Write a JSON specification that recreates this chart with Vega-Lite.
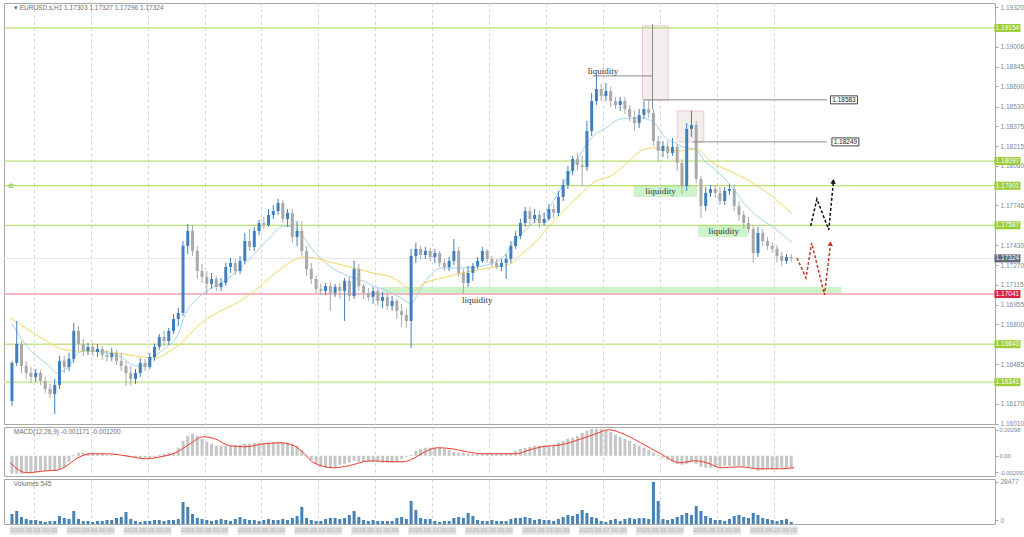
{
"$schema":"https://vega.github.io/schema/vega-lite/v6.json",
"padding":{"left":2,"top":2,"right":0,"bottom":0},
"background":"white",
"spacing":3,
"bounds":"flush",
"config":{"view":{"stroke":"#a8a8a8","strokeWidth":1},"axis":{"labelFont":"Liberation Sans","labelFontSize":6.5,"labelColor":"#7d8592","tickColor":"#a0a6ae","tickSize":3,"domainColor":"#a0a6ae","labelPadding":2}},
"datasets":{
"bars":[
{"i":0,"o":1.16192,"h":1.1651,"l":1.16152,"c":1.16494,"v":6780,"m":-0.00186},
{"i":1,"o":1.16494,"h":1.16827,"l":1.1647,"c":1.16645,"v":8810,"m":-0.00186},
{"i":2,"o":1.16645,"h":1.16668,"l":1.16414,"c":1.1647,"v":4750,"m":-0.00186},
{"i":3,"o":1.1647,"h":1.1651,"l":1.16367,"c":1.16414,"v":3390,"m":-0.00176},
{"i":4,"o":1.16414,"h":1.16462,"l":1.16335,"c":1.16383,"v":2710,"m":-0.00166},
{"i":5,"o":1.16383,"h":1.16446,"l":1.16343,"c":1.16414,"v":2710,"m":-0.00166},
{"i":6,"o":1.16414,"h":1.16438,"l":1.16319,"c":1.16351,"v":2030,"m":-0.00155},
{"i":7,"o":1.16351,"h":1.16383,"l":1.16256,"c":1.16287,"v":1360,"m":-0.00155},
{"i":8,"o":1.16287,"h":1.16327,"l":1.16216,"c":1.16248,"v":2030,"m":-0.00155},
{"i":9,"o":1.16248,"h":1.16367,"l":1.16089,"c":1.16319,"v":2030,"m":-0.00155},
{"i":10,"o":1.16319,"h":1.16549,"l":1.16287,"c":1.1651,"v":5420,"m":-0.00135},
{"i":11,"o":1.1651,"h":1.16549,"l":1.16414,"c":1.16462,"v":4070,"m":-0.00114},
{"i":12,"o":1.16462,"h":1.16573,"l":1.1643,"c":1.16526,"v":3390,"m":-0.00062},
{"i":13,"o":1.16526,"h":1.16811,"l":1.16494,"c":1.16748,"v":8810,"m":0.0001},
{"i":14,"o":1.16748,"h":1.16787,"l":1.16589,"c":1.16645,"v":3390,"m":0.00031},
{"i":15,"o":1.16645,"h":1.16684,"l":1.16549,"c":1.16589,"v":2030,"m":0.00031},
{"i":16,"o":1.16589,"h":1.16653,"l":1.16557,"c":1.16621,"v":2030,"m":0.00031},
{"i":17,"o":1.16621,"h":1.16653,"l":1.16549,"c":1.16581,"v":1360,"m":0.00031},
{"i":18,"o":1.16581,"h":1.16645,"l":1.16541,"c":1.16605,"v":2030,"m":0.00021},
{"i":19,"o":1.16605,"h":1.16629,"l":1.16518,"c":1.16557,"v":2030,"m":0.00021},
{"i":20,"o":1.16557,"h":1.16597,"l":1.16502,"c":1.16541,"v":2710,"m":0.0001},
{"i":21,"o":1.16541,"h":1.16613,"l":1.1651,"c":1.16573,"v":2710,"m":0.0001},
{"i":22,"o":1.16573,"h":1.16597,"l":1.16478,"c":1.1651,"v":4070,"m":0},
{"i":23,"o":1.1651,"h":1.16573,"l":1.1643,"c":1.1647,"v":4750,"m":0},
{"i":24,"o":1.1647,"h":1.1651,"l":1.16311,"c":1.16414,"v":8140,"m":-0.0001},
{"i":25,"o":1.16414,"h":1.1647,"l":1.16319,"c":1.16367,"v":3390,"m":-0.0001},
{"i":26,"o":1.16367,"h":1.16446,"l":1.16327,"c":1.16414,"v":2030,"m":-0.00021},
{"i":27,"o":1.16414,"h":1.16533,"l":1.16383,"c":1.16494,"v":1360,"m":-0.00021},
{"i":28,"o":1.16494,"h":1.16526,"l":1.1643,"c":1.16462,"v":2030,"m":-0.00021},
{"i":29,"o":1.16462,"h":1.16573,"l":1.16446,"c":1.16541,"v":2030,"m":-0.00021},
{"i":30,"o":1.16541,"h":1.16645,"l":1.1651,"c":1.16621,"v":2710,"m":-0.0001},
{"i":31,"o":1.16621,"h":1.16724,"l":1.16597,"c":1.167,"v":2710,"m":0.0001},
{"i":32,"o":1.167,"h":1.16748,"l":1.16629,"c":1.16668,"v":2030,"m":0.00021},
{"i":33,"o":1.16668,"h":1.16772,"l":1.16637,"c":1.16748,"v":2710,"m":0.00031},
{"i":34,"o":1.16748,"h":1.16883,"l":1.16724,"c":1.16843,"v":2710,"m":0.00031},
{"i":35,"o":1.16843,"h":1.1693,"l":1.16787,"c":1.16891,"v":3390,"m":0.00083},
{"i":36,"o":1.16891,"h":1.17462,"l":1.16867,"c":1.17423,"v":14920,"m":0.00155},
{"i":37,"o":1.17423,"h":1.17597,"l":1.17359,"c":1.17542,"v":11530,"m":0.00207},
{"i":38,"o":1.17542,"h":1.1759,"l":1.17343,"c":1.17383,"v":6780,"m":0.00228},
{"i":39,"o":1.17383,"h":1.17423,"l":1.17161,"c":1.17224,"v":4070,"m":0.00207},
{"i":40,"o":1.17224,"h":1.1728,"l":1.17129,"c":1.17177,"v":3390,"m":0.00176},
{"i":41,"o":1.17177,"h":1.17224,"l":1.17042,"c":1.17121,"v":2710,"m":0.00145},
{"i":42,"o":1.17121,"h":1.17208,"l":1.17081,"c":1.17161,"v":2030,"m":0.00124},
{"i":43,"o":1.17161,"h":1.17185,"l":1.17065,"c":1.17097,"v":2710,"m":0.00104},
{"i":44,"o":1.17097,"h":1.17169,"l":1.17065,"c":1.17129,"v":3390,"m":0.00104},
{"i":45,"o":1.17129,"h":1.17288,"l":1.17105,"c":1.17256,"v":2710,"m":0.00104},
{"i":46,"o":1.17256,"h":1.17327,"l":1.17208,"c":1.17288,"v":2030,"m":0.00104},
{"i":47,"o":1.17288,"h":1.17319,"l":1.17192,"c":1.17224,"v":3390,"m":0.00114},
{"i":48,"o":1.17224,"h":1.17343,"l":1.172,"c":1.17304,"v":4750,"m":0.00114},
{"i":49,"o":1.17304,"h":1.17526,"l":1.1728,"c":1.17462,"v":3390,"m":0.00124},
{"i":50,"o":1.17462,"h":1.17558,"l":1.17383,"c":1.17415,"v":2710,"m":0.00124},
{"i":51,"o":1.17415,"h":1.17574,"l":1.17383,"c":1.17542,"v":2710,"m":0.00135},
{"i":52,"o":1.17542,"h":1.17629,"l":1.1751,"c":1.17605,"v":2030,"m":0.00135},
{"i":53,"o":1.17605,"h":1.17653,"l":1.17558,"c":1.17589,"v":2710,"m":0.00135},
{"i":54,"o":1.17589,"h":1.17716,"l":1.17574,"c":1.17669,"v":3390,"m":0.00135},
{"i":55,"o":1.17669,"h":1.17748,"l":1.17637,"c":1.177,"v":2710,"m":0.00145},
{"i":56,"o":1.177,"h":1.17796,"l":1.17669,"c":1.17764,"v":2710,"m":0.00145},
{"i":57,"o":1.17764,"h":1.17788,"l":1.17605,"c":1.17637,"v":3390,"m":0.00135},
{"i":58,"o":1.17637,"h":1.17716,"l":1.17574,"c":1.17685,"v":2710,"m":0.00135},
{"i":59,"o":1.17685,"h":1.17716,"l":1.17447,"c":1.17494,"v":4070,"m":0.00124},
{"i":60,"o":1.17494,"h":1.17621,"l":1.17423,"c":1.17542,"v":5420,"m":0.00104},
{"i":61,"o":1.17542,"h":1.17621,"l":1.17343,"c":1.17383,"v":11530,"m":0.00062},
{"i":62,"o":1.17383,"h":1.17423,"l":1.17185,"c":1.1724,"v":4070,"m":0.0001},
{"i":63,"o":1.1724,"h":1.17288,"l":1.17121,"c":1.17161,"v":2710,"m":-0.00041},
{"i":64,"o":1.17161,"h":1.17185,"l":1.1705,"c":1.17081,"v":2030,"m":-0.00083},
{"i":65,"o":1.17081,"h":1.17121,"l":1.17034,"c":1.17065,"v":2030,"m":-0.00114},
{"i":66,"o":1.17065,"h":1.17129,"l":1.17034,"c":1.17105,"v":3390,"m":-0.00124},
{"i":67,"o":1.17105,"h":1.17137,"l":1.16907,"c":1.1705,"v":4070,"m":-0.00124},
{"i":68,"o":1.1705,"h":1.17121,"l":1.17018,"c":1.17097,"v":4070,"m":-0.00114},
{"i":69,"o":1.17097,"h":1.17129,"l":1.17002,"c":1.17065,"v":3390,"m":-0.00093},
{"i":70,"o":1.17065,"h":1.17169,"l":1.16827,"c":1.17145,"v":4070,"m":-0.00083},
{"i":71,"o":1.17145,"h":1.17177,"l":1.16986,"c":1.17026,"v":6100,"m":-0.00072},
{"i":72,"o":1.17026,"h":1.17304,"l":1.17002,"c":1.1724,"v":8810,"m":-0.00052},
{"i":73,"o":1.1724,"h":1.1728,"l":1.17065,"c":1.17105,"v":4750,"m":-0.00062},
{"i":74,"o":1.17105,"h":1.17121,"l":1.17002,"c":1.1705,"v":2710,"m":-0.00062},
{"i":75,"o":1.1705,"h":1.17089,"l":1.16986,"c":1.17018,"v":2030,"m":-0.00062},
{"i":76,"o":1.17018,"h":1.17097,"l":1.16962,"c":1.17065,"v":2710,"m":-0.00062},
{"i":77,"o":1.17065,"h":1.17089,"l":1.16946,"c":1.16986,"v":2030,"m":-0.00062},
{"i":78,"o":1.16986,"h":1.17057,"l":1.1693,"c":1.17018,"v":2030,"m":-0.00072},
{"i":79,"o":1.17018,"h":1.1705,"l":1.16915,"c":1.16946,"v":2030,"m":-0.00072},
{"i":80,"o":1.16946,"h":1.17026,"l":1.16907,"c":1.16986,"v":2030,"m":-0.00072},
{"i":81,"o":1.16986,"h":1.17002,"l":1.16843,"c":1.16907,"v":4070,"m":-0.00062},
{"i":82,"o":1.16907,"h":1.16962,"l":1.1678,"c":1.16875,"v":4750,"m":-0.00031},
{"i":83,"o":1.16875,"h":1.16923,"l":1.16772,"c":1.16827,"v":3390,"m":-0.0001},
{"i":84,"o":1.16827,"h":1.17399,"l":1.16613,"c":1.17343,"v":15590,"m":0.0001},
{"i":85,"o":1.17343,"h":1.17447,"l":1.17288,"c":1.17399,"v":9490,"m":0.00052},
{"i":86,"o":1.17399,"h":1.17423,"l":1.17319,"c":1.17351,"v":4070,"m":0.00072},
{"i":87,"o":1.17351,"h":1.17415,"l":1.17319,"c":1.17383,"v":3390,"m":0.00083},
{"i":88,"o":1.17383,"h":1.17407,"l":1.17304,"c":1.17335,"v":3390,"m":0.00083},
{"i":89,"o":1.17335,"h":1.17399,"l":1.17288,"c":1.17367,"v":2030,"m":0.00083},
{"i":90,"o":1.17367,"h":1.17383,"l":1.17256,"c":1.17288,"v":1360,"m":0.00083},
{"i":91,"o":1.17288,"h":1.17319,"l":1.17224,"c":1.17256,"v":2030,"m":0.00072},
{"i":92,"o":1.17256,"h":1.17335,"l":1.17224,"c":1.17304,"v":2030,"m":0.00062},
{"i":93,"o":1.17304,"h":1.17478,"l":1.17272,"c":1.17383,"v":4070,"m":0.00041},
{"i":94,"o":1.17383,"h":1.17415,"l":1.17177,"c":1.17208,"v":4750,"m":0.00031},
{"i":95,"o":1.17208,"h":1.1724,"l":1.17042,"c":1.17129,"v":4070,"m":0.00031},
{"i":96,"o":1.17129,"h":1.17264,"l":1.17097,"c":1.17208,"v":7460,"m":0.00021},
{"i":97,"o":1.17208,"h":1.17288,"l":1.17145,"c":1.17264,"v":5420,"m":0.00021},
{"i":98,"o":1.17264,"h":1.17335,"l":1.1724,"c":1.17304,"v":2710,"m":0.00021},
{"i":99,"o":1.17304,"h":1.17415,"l":1.17288,"c":1.17383,"v":2030,"m":0.00021},
{"i":100,"o":1.17383,"h":1.17399,"l":1.17288,"c":1.17319,"v":2030,"m":0.00021},
{"i":101,"o":1.17319,"h":1.17343,"l":1.17256,"c":1.17288,"v":2710,"m":0.00021},
{"i":102,"o":1.17288,"h":1.17319,"l":1.1724,"c":1.17256,"v":2030,"m":0.00021},
{"i":103,"o":1.17256,"h":1.17319,"l":1.17224,"c":1.17288,"v":2030,"m":0.00021},
{"i":104,"o":1.17288,"h":1.17359,"l":1.17161,"c":1.17319,"v":2030,"m":0.00021},
{"i":105,"o":1.17319,"h":1.17462,"l":1.17288,"c":1.17423,"v":3390,"m":0.00031},
{"i":106,"o":1.17423,"h":1.17542,"l":1.17399,"c":1.17502,"v":4070,"m":0.00052},
{"i":107,"o":1.17502,"h":1.17637,"l":1.17478,"c":1.17605,"v":4070,"m":0.00072},
{"i":108,"o":1.17605,"h":1.17732,"l":1.17574,"c":1.177,"v":4750,"m":0.00083},
{"i":109,"o":1.177,"h":1.17732,"l":1.17582,"c":1.17637,"v":4070,"m":0.00093},
{"i":110,"o":1.17637,"h":1.17716,"l":1.17605,"c":1.17669,"v":2710,"m":0.00104},
{"i":111,"o":1.17669,"h":1.177,"l":1.17566,"c":1.17605,"v":3390,"m":0.00104},
{"i":112,"o":1.17605,"h":1.17685,"l":1.17582,"c":1.17637,"v":2710,"m":0.00104},
{"i":113,"o":1.17637,"h":1.17756,"l":1.17621,"c":1.17716,"v":2710,"m":0.00104},
{"i":114,"o":1.17716,"h":1.17756,"l":1.17645,"c":1.17685,"v":2030,"m":0.00114},
{"i":115,"o":1.17685,"h":1.1786,"l":1.17661,"c":1.17812,"v":3390,"m":0.00135},
{"i":116,"o":1.17812,"h":1.17955,"l":1.1778,"c":1.17907,"v":4750,"m":0.00155},
{"i":117,"o":1.17907,"h":1.18058,"l":1.17875,"c":1.18018,"v":6100,"m":0.00176},
{"i":118,"o":1.18018,"h":1.18137,"l":1.17986,"c":1.18113,"v":5420,"m":0.00186},
{"i":119,"o":1.18113,"h":1.18161,"l":1.18018,"c":1.18066,"v":6780,"m":0.00207},
{"i":120,"o":1.18066,"h":1.18137,"l":1.17899,"c":1.1805,"v":9490,"m":0.00238},
{"i":121,"o":1.1805,"h":1.18415,"l":1.18018,"c":1.18336,"v":7460,"m":0.00259},
{"i":122,"o":1.18336,"h":1.18638,"l":1.18296,"c":1.18574,"v":4750,"m":0.00279},
{"i":123,"o":1.18574,"h":1.18773,"l":1.18542,"c":1.18669,"v":4070,"m":0.00279},
{"i":124,"o":1.18669,"h":1.18709,"l":1.18574,"c":1.18614,"v":2030,"m":0.00279},
{"i":125,"o":1.18614,"h":1.18717,"l":1.18574,"c":1.18653,"v":1360,"m":0.00269},
{"i":126,"o":1.18653,"h":1.18685,"l":1.18526,"c":1.18574,"v":2710,"m":0.00248},
{"i":127,"o":1.18574,"h":1.18606,"l":1.1851,"c":1.18542,"v":3390,"m":0.00217},
{"i":128,"o":1.18542,"h":1.18606,"l":1.18495,"c":1.18574,"v":2030,"m":0.00197},
{"i":129,"o":1.18574,"h":1.18606,"l":1.18471,"c":1.1851,"v":3390,"m":0.00176},
{"i":130,"o":1.1851,"h":1.18542,"l":1.18415,"c":1.18447,"v":4070,"m":0.00155},
{"i":131,"o":1.18447,"h":1.18495,"l":1.18336,"c":1.18399,"v":3390,"m":0.00124},
{"i":132,"o":1.18399,"h":1.1851,"l":1.1836,"c":1.18463,"v":4070,"m":0.00104},
{"i":133,"o":1.18463,"h":1.18574,"l":1.18431,"c":1.1851,"v":4070,"m":0.00083},
{"i":134,"o":1.1851,"h":1.18582,"l":1.18439,"c":1.18479,"v":3390,"m":0.00062},
{"i":135,"o":1.18479,"h":1.1851,"l":1.18217,"c":1.18256,"v":28477,"m":0.00031},
{"i":136,"o":1.18256,"h":1.18296,"l":1.18098,"c":1.18177,"v":15590,"m":0.0001},
{"i":137,"o":1.18177,"h":1.18256,"l":1.18129,"c":1.18217,"v":3390,"m":-0.00021},
{"i":138,"o":1.18217,"h":1.18256,"l":1.18113,"c":1.18161,"v":2710,"m":-0.00041},
{"i":139,"o":1.18161,"h":1.1828,"l":1.18137,"c":1.18209,"v":3390,"m":-0.00062},
{"i":140,"o":1.18209,"h":1.18233,"l":1.18018,"c":1.18082,"v":4750,"m":-0.00083},
{"i":141,"o":1.18082,"h":1.18113,"l":1.17836,"c":1.17899,"v":6100,"m":-0.00093},
{"i":142,"o":1.17899,"h":1.18399,"l":1.1786,"c":1.18352,"v":7460,"m":-0.00083},
{"i":143,"o":1.18352,"h":1.18495,"l":1.18288,"c":1.18383,"v":6100,"m":-0.00062},
{"i":144,"o":1.18383,"h":1.18415,"l":1.17923,"c":1.17955,"v":12200,"m":-0.00083},
{"i":145,"o":1.17955,"h":1.17978,"l":1.17645,"c":1.1774,"v":8810,"m":-0.00114},
{"i":146,"o":1.1774,"h":1.17891,"l":1.177,"c":1.17844,"v":5420,"m":-0.00124},
{"i":147,"o":1.17844,"h":1.17907,"l":1.17812,"c":1.17875,"v":4070,"m":-0.00124},
{"i":148,"o":1.17875,"h":1.17899,"l":1.17804,"c":1.17844,"v":2710,"m":-0.00114},
{"i":149,"o":1.17844,"h":1.17891,"l":1.17748,"c":1.1778,"v":2710,"m":-0.00114},
{"i":150,"o":1.1778,"h":1.17891,"l":1.17748,"c":1.1786,"v":2030,"m":-0.00104},
{"i":151,"o":1.1786,"h":1.17915,"l":1.17828,"c":1.17875,"v":3390,"m":-0.00104},
{"i":152,"o":1.17875,"h":1.17907,"l":1.177,"c":1.1774,"v":5420,"m":-0.00104},
{"i":153,"o":1.1774,"h":1.1778,"l":1.17621,"c":1.17669,"v":6100,"m":-0.00104},
{"i":154,"o":1.17669,"h":1.177,"l":1.17558,"c":1.17605,"v":4750,"m":-0.00114},
{"i":155,"o":1.17605,"h":1.17653,"l":1.17526,"c":1.17558,"v":4070,"m":-0.00114},
{"i":156,"o":1.17558,"h":1.17589,"l":1.17288,"c":1.17367,"v":7460,"m":-0.00135},
{"i":157,"o":1.17367,"h":1.17574,"l":1.17335,"c":1.17526,"v":6100,"m":-0.00155},
{"i":158,"o":1.17526,"h":1.17558,"l":1.17423,"c":1.17462,"v":4070,"m":-0.00145},
{"i":159,"o":1.17462,"h":1.17494,"l":1.17391,"c":1.17423,"v":3390,"m":-0.00135},
{"i":160,"o":1.17423,"h":1.17454,"l":1.17367,"c":1.17399,"v":2710,"m":-0.00135},
{"i":161,"o":1.17399,"h":1.17431,"l":1.17288,"c":1.17343,"v":2030,"m":-0.00135},
{"i":162,"o":1.17343,"h":1.17375,"l":1.17264,"c":1.17304,"v":2710,"m":-0.00124},
{"i":163,"o":1.17304,"h":1.17359,"l":1.1728,"c":1.17335,"v":3390,"m":-0.00124},
{"i":164,"o":1.17335,"h":1.17359,"l":1.17296,"c":1.17324,"v":1360,"m":-0.00124}
],
"days":[{"i":4.58,"t":"2025.09.03 00:00"},{"i":16.56,"t":"2025.09.04 00:00"},{"i":28.54,"t":"2025.09.05 00:00"},{"i":40.52,"t":"2025.09.08 00:00"},{"i":52.5,"t":"2025.09.09 00:00"},{"i":64.48,"t":"2025.09.10 00:00"},{"i":76.46,"t":"2025.09.11 00:00"},{"i":88.44,"t":"2025.09.12 00:00"},{"i":100.42,"t":"2025.09.15 00:00"},{"i":112.4,"t":"2025.09.16 00:00"},{"i":124.38,"t":"2025.09.17 00:00"},{"i":136.36,"t":"2025.09.18 00:00"},{"i":148.34,"t":"2025.09.19 00:00"},{"i":160.32,"t":"2025.09.22 00:00"}]
},
"vconcat":[
{"width":991,"height":421,
"resolve":{"axis":{"x":"independent","y":"independent"}},
"layer":[
{"data":{"values":[{"i":130.8,"i2":144.2,"p":1.17907,"p2":1.17812},{"i":144.4,"i2":154.8,"p":1.1759,"p2":1.17494},{"i":77.7,"i2":174.6,"p":1.17097,"p2":1.1705}]},
"mark":{"type":"rect","color":"#cdf3cb"},
"encoding":{"x":{"field":"i","type":"quantitative","scale":{"domain":[-0.625,205.83],"nice":false,"zero":false},"axis":{"values":[4.58,16.56,28.54,40.52,52.5,64.48,76.46,88.44,100.42,112.4,124.38,136.36,148.34,160.32],"grid":true,"gridDash":[3,3],"gridColor":"#d6d6d6","labels":false,"ticks":false,"domain":false,"title":null}},"x2":{"field":"i2"},
"y":{"field":"p","type":"quantitative","scale":{"domain":[1.16009,1.19352],"nice":false,"zero":false},"axis":{"orient":"right","values":[1.1932,1.19006,1.18845,1.1869,1.1853,1.18375,1.18215,1.1806,1.17746,1.1743,1.1727,1.17115,1.16955,1.168,1.16485,1.1617,1.1601],"format":".5f","domain":false,"grid":false,"labelOverlap":false,"title":null}},"y2":{"field":"p2"}}},
{"data":{"values":[{"i":132.7,"i2":138.1,"p":1.1917,"p2":1.18582},{"i":140,"i2":145.6,"p":1.18495,"p2":1.18249}]},
"mark":{"type":"rect","fill":"#f3eeee","stroke":"#efc8c8","strokeWidth":1},
"encoding":{"x":{"field":"i","type":"quantitative","scale":{"domain":[-0.625,205.83],"nice":false,"zero":false},"axis":null},"x2":{"field":"i2"},"y":{"field":"p","type":"quantitative","scale":{"domain":[1.16009,1.19352],"nice":false,"zero":false},"axis":null},"y2":{"field":"p2"}}},
{"data":{"values":[{"p":1.19154},{"p":1.18097},{"p":1.17901},{"p":1.17587},{"p":1.16643}]},
"mark":{"type":"rule","color":"#a8d752","strokeWidth":1},
"encoding":{"y":{"field":"p","type":"quantitative","scale":{"domain":[1.16009,1.19352],"nice":false,"zero":false},"axis":null}}},
{"data":{"values":[{"p":1.16341}]},
"mark":{"type":"rule","color":"#d3eaa8","strokeWidth":2},
"encoding":{"y":{"field":"p","type":"quantitative","scale":{"domain":[1.16009,1.19352],"nice":false,"zero":false},"axis":null}}},
{"data":{"values":[{"p":1.17041}]},
"mark":{"type":"rule","color":"#f2a0ab","strokeWidth":1.5},
"encoding":{"y":{"field":"p","type":"quantitative","scale":{"domain":[1.16009,1.19352],"nice":false,"zero":false},"axis":null}}},
{"data":{"values":[{"p":1.17324}]},
"mark":{"type":"rule","color":"#e2e2f0","strokeWidth":1},
"encoding":{"y":{"field":"p","type":"quantitative","scale":{"domain":[1.16009,1.19352],"nice":false,"zero":false},"axis":null}}},
{"data":{"values":[{"i":0,"p":1.16803},{"i":3.1,"p":1.16629},{"i":8.3,"p":1.16454},{"i":9.4,"p":1.16414},{"i":12.5,"p":1.16494},{"i":13.5,"p":1.16565},{"i":15.6,"p":1.16589},{"i":19.8,"p":1.16573},{"i":22.9,"p":1.16542},{"i":26,"p":1.1647},{"i":28.1,"p":1.1647},{"i":29.6,"p":1.16534},{"i":32.3,"p":1.16613},{"i":35,"p":1.16724},{"i":36.5,"p":1.16883},{"i":38.5,"p":1.16986},{"i":41.7,"p":1.17081},{"i":44.8,"p":1.17145},{"i":47.9,"p":1.1724},{"i":51,"p":1.17359},{"i":54.2,"p":1.17486},{"i":57.3,"p":1.17582},{"i":59.4,"p":1.17566},{"i":61.5,"p":1.17486},{"i":63.5,"p":1.17383},{"i":65.6,"p":1.17304},{"i":67.7,"p":1.1724},{"i":69.8,"p":1.172},{"i":71.9,"p":1.17169},{"i":74,"p":1.17145},{"i":76,"p":1.17105},{"i":78.1,"p":1.17081},{"i":80.2,"p":1.17042},{"i":82.3,"p":1.17002},{"i":84,"p":1.16962},{"i":85.4,"p":1.17042},{"i":87.5,"p":1.17169},{"i":90.6,"p":1.17248},{"i":94.8,"p":1.17248},{"i":99,"p":1.17264},{"i":103.1,"p":1.17327},{"i":105.8,"p":1.17462},{"i":109.4,"p":1.17597},{"i":112.5,"p":1.177},{"i":115.6,"p":1.17883},{"i":118.8,"p":1.18098},{"i":121.9,"p":1.1828},{"i":125,"p":1.1836},{"i":128.1,"p":1.18431},{"i":132.3,"p":1.18439},{"i":135.4,"p":1.18391},{"i":137.5,"p":1.1828},{"i":139.6,"p":1.18241},{"i":141.7,"p":1.18201},{"i":143.8,"p":1.18193},{"i":145.8,"p":1.18098},{"i":147.9,"p":1.18034},{"i":151,"p":1.17915},{"i":154.2,"p":1.17756},{"i":157.3,"p":1.17645},{"i":160.4,"p":1.17566},{"i":164.2,"p":1.17447}]},
"mark":{"type":"line","color":"#9fd3f0","strokeWidth":1,"interpolate":"monotone"},
"encoding":{"x":{"field":"i","type":"quantitative","scale":{"domain":[-0.625,205.83],"nice":false,"zero":false},"axis":null},"y":{"field":"p","type":"quantitative","scale":{"domain":[1.16009,1.19352],"nice":false,"zero":false},"axis":null}}},
{"data":{"values":[{"i":-0.4,"p":1.16851},{"i":3.1,"p":1.16764},{"i":7.3,"p":1.16668},{"i":10.4,"p":1.16605},{"i":13.5,"p":1.16589},{"i":17.7,"p":1.16589},{"i":21.9,"p":1.16573},{"i":26,"p":1.16549},{"i":30.2,"p":1.16534},{"i":33.3,"p":1.16589},{"i":35.4,"p":1.16645},{"i":37.5,"p":1.16724},{"i":39.6,"p":1.16803},{"i":42.7,"p":1.16883},{"i":46.9,"p":1.16962},{"i":51,"p":1.17065},{"i":55.2,"p":1.172},{"i":58.3,"p":1.17288},{"i":61.5,"p":1.17335},{"i":63.5,"p":1.17327},{"i":67.7,"p":1.17288},{"i":71.9,"p":1.17248},{"i":76,"p":1.17208},{"i":80.2,"p":1.17169},{"i":83.3,"p":1.17089},{"i":84.4,"p":1.17065},{"i":86.5,"p":1.17121},{"i":90.6,"p":1.17169},{"i":94.8,"p":1.17208},{"i":99,"p":1.1724},{"i":103.1,"p":1.17264},{"i":105.2,"p":1.17288},{"i":107.3,"p":1.17359},{"i":110.4,"p":1.17462},{"i":113.5,"p":1.17597},{"i":116.7,"p":1.17724},{"i":119.8,"p":1.17836},{"i":122.9,"p":1.17939},{"i":126,"p":1.17978},{"i":129.2,"p":1.18074},{"i":132.3,"p":1.18177},{"i":134.8,"p":1.18201},{"i":137.5,"p":1.18193},{"i":140.6,"p":1.18177},{"i":144.2,"p":1.18193},{"i":146.9,"p":1.18098},{"i":151,"p":1.18018},{"i":155.2,"p":1.17939},{"i":160.4,"p":1.17804},{"i":164.2,"p":1.17677}]},
"mark":{"type":"line","color":"#f6d55c","strokeWidth":1,"interpolate":"monotone"},
"encoding":{"x":{"field":"i","type":"quantitative","scale":{"domain":[-0.625,205.83],"nice":false,"zero":false},"axis":null},"y":{"field":"p","type":"quantitative","scale":{"domain":[1.16009,1.19352],"nice":false,"zero":false},"axis":null}}},
{"data":{"name":"bars"},
"mark":{"type":"rule","strokeWidth":1},
"encoding":{"x":{"field":"i","type":"quantitative","scale":{"domain":[-0.625,205.83],"nice":false,"zero":false},"axis":null},"y":{"field":"l","type":"quantitative","scale":{"domain":[1.16009,1.19352],"nice":false,"zero":false},"axis":null},"y2":{"field":"h"},"color":{"condition":{"test":"datum.c >= datum.o","value":"#3f7fbf"},"value":"#a9a9a9"}}},
{"data":{"name":"bars"},
"mark":{"type":"bar","size":3},
"encoding":{"x":{"field":"i","type":"quantitative","scale":{"domain":[-0.625,205.83],"nice":false,"zero":false},"axis":null},"y":{"field":"o","type":"quantitative","scale":{"domain":[1.16009,1.19352],"nice":false,"zero":false},"axis":null},"y2":{"field":"c"},"color":{"condition":{"test":"datum.c >= datum.o","value":"#3f7fbf"},"value":"#a9a9a9"}}},
{"data":{"values":[{"i":122.3,"i2":134.8,"p":1.18773,"p2":1.18773},{"i":134.8,"i2":134.8,"p":1.19185,"p2":1.1851},{"i":132.9,"i2":171.5,"p":1.18583,"p2":1.18583},{"i":143.3,"i2":171.5,"p":1.18249,"p2":1.18249}]},
"mark":{"type":"rule","color":"#8a8a8a","strokeWidth":1},
"encoding":{"x":{"field":"i","type":"quantitative","scale":{"domain":[-0.625,205.83],"nice":false,"zero":false},"axis":null},"x2":{"field":"i2"},"y":{"field":"p","type":"quantitative","scale":{"domain":[1.16009,1.19352],"nice":false,"zero":false},"axis":null},"y2":{"field":"p2"}}},
{"data":{"values":[{"k":0,"i":168.1,"p":1.17582},{"k":1,"i":169.4,"p":1.17796},{"k":2,"i":171.9,"p":1.1755},{"k":3,"i":172.9,"p":1.17945}]},
"mark":{"type":"line","color":"#111111","strokeWidth":1.5,"strokeDash":[3,2]},
"encoding":{"x":{"field":"i","type":"quantitative","scale":{"domain":[-0.625,205.83],"nice":false,"zero":false},"axis":null},"y":{"field":"p","type":"quantitative","scale":{"domain":[1.16009,1.19352],"nice":false,"zero":false},"axis":null},"order":{"field":"k"}}},
{"data":{"values":[{"k":0,"i":165.2,"p":1.17327},{"k":1,"i":167.1,"p":1.17169},{"k":2,"i":168.3,"p":1.17447},{"k":3,"i":171,"p":1.17034},{"k":4,"i":172.3,"p":1.17452}]},
"mark":{"type":"line","color":"#c0392b","strokeWidth":1.5,"strokeDash":[3,2]},
"encoding":{"x":{"field":"i","type":"quantitative","scale":{"domain":[-0.625,205.83],"nice":false,"zero":false},"axis":null},"y":{"field":"p","type":"quantitative","scale":{"domain":[1.16009,1.19352],"nice":false,"zero":false},"axis":null},"order":{"field":"k"}}},
{"data":{"values":[{"i":172.85,"p":1.17935}]},
"mark":{"type":"point","shape":"triangle-up","filled":true,"size":30,"opacity":1,"color":"#111111","angle":6},
"encoding":{"x":{"field":"i","type":"quantitative","scale":{"domain":[-0.625,205.83],"nice":false,"zero":false},"axis":null},"y":{"field":"p","type":"quantitative","scale":{"domain":[1.16009,1.19352],"nice":false,"zero":false},"axis":null}}},
{"data":{"values":[{"i":172.25,"p":1.17442}]},
"mark":{"type":"point","shape":"triangle-up","filled":true,"size":30,"opacity":1,"color":"#c0392b","angle":6},
"encoding":{"x":{"field":"i","type":"quantitative","scale":{"domain":[-0.625,205.83],"nice":false,"zero":false},"axis":null},"y":{"field":"p","type":"quantitative","scale":{"domain":[1.16009,1.19352],"nice":false,"zero":false},"axis":null}}},
{"data":{"values":[{"i":124.4,"p":1.18812,"t":"liquidity"},{"i":136.5,"p":1.1786,"t":"liquidity"},{"i":149.8,"p":1.17542,"t":"liquidity"},{"i":97.9,"p":1.16994,"t":"liquidity"}]},
"mark":{"type":"text","font":"Liberation Serif","fontSize":9,"color":"#333333","align":"center","baseline":"middle"},
"encoding":{"x":{"field":"i","type":"quantitative","scale":{"domain":[-0.625,205.83],"nice":false,"zero":false},"axis":null},"y":{"field":"p","type":"quantitative","scale":{"domain":[1.16009,1.19352],"nice":false,"zero":false},"axis":null},"text":{"field":"t"}}},
{"data":{"values":[{"i":175.1,"p":1.18583,"t":"1.18583"},{"i":175.4,"p":1.18249,"t":"1.18249"}]},
"mark":{"type":"tick","orient":"horizontal","size":27,"thickness":8,"fill":"#ffffff","stroke":"#444444","strokeWidth":1,"opacity":1},
"encoding":{"x":{"field":"i","type":"quantitative","scale":{"domain":[-0.625,205.83],"nice":false,"zero":false},"axis":null},"y":{"field":"p","type":"quantitative","scale":{"domain":[1.16009,1.19352],"nice":false,"zero":false},"axis":null}}},
{"data":{"values":[{"i":175.1,"p":1.18583,"t":"1.18583"},{"i":175.4,"p":1.18249,"t":"1.18249"}]},
"mark":{"type":"text","font":"Liberation Sans","fontSize":6.5,"color":"#222222","align":"center","baseline":"middle"},
"encoding":{"x":{"field":"i","type":"quantitative","scale":{"domain":[-0.625,205.83],"nice":false,"zero":false},"axis":null},"y":{"field":"p","type":"quantitative","scale":{"domain":[1.16009,1.19352],"nice":false,"zero":false},"axis":null},"text":{"field":"t"}}},
{"data":{"values":[{"p":1.19154,"t":"1.19154","k":"g"},{"p":1.18097,"t":"1.18097","k":"g"},{"p":1.17901,"t":"1.17901","k":"g"},{"p":1.17587,"t":"1.17587","k":"g"},{"p":1.17324,"t":"1.17324","k":"c"},{"p":1.17041,"t":"1.17041","k":"r"},{"p":1.16643,"t":"1.16643","k":"g"},{"p":1.16341,"t":"1.16341","k":"g"}]},
"mark":{"type":"tick","orient":"horizontal","size":26,"thickness":8,"opacity":1},
"encoding":{"x":{"datum":209.5,"type":"quantitative","scale":{"domain":[-0.625,205.83],"nice":false,"zero":false},"axis":null},"y":{"field":"p","type":"quantitative","scale":{"domain":[1.16009,1.19352],"nice":false,"zero":false},"axis":null},"color":{"field":"k","type":"nominal","scale":{"domain":["g","c","r"],"range":["#9acd32","#5f6a78","#e0213d"]},"legend":null}}},
{"data":{"values":[{"p":1.19154,"t":"1.19154"},{"p":1.18097,"t":"1.18097"},{"p":1.17901,"t":"1.17901"},{"p":1.17587,"t":"1.17587"},{"p":1.17324,"t":"1.17324"},{"p":1.17041,"t":"1.17041"},{"p":1.16643,"t":"1.16643"},{"p":1.16341,"t":"1.16341"}]},
"mark":{"type":"text","font":"Liberation Sans","fontSize":6.5,"color":"#ffffff","align":"center","baseline":"middle"},
"encoding":{"x":{"datum":209.5,"type":"quantitative","scale":{"domain":[-0.625,205.83],"nice":false,"zero":false},"axis":null},"y":{"field":"p","type":"quantitative","scale":{"domain":[1.16009,1.19352],"nice":false,"zero":false},"axis":null},"text":{"field":"t"}}},
{"data":{"values":[{"t":"▾ EURUSD.s,H1  1.17303 1.17327 1.17296 1.17324"}]},
"mark":{"type":"text","font":"Liberation Sans","fontSize":6.5,"color":"#6e6e6e","align":"left","baseline":"middle"},
"encoding":{"x":{"datum":0.4,"type":"quantitative","scale":{"domain":[-0.625,205.83],"nice":false,"zero":false},"axis":null},"y":{"datum":1.19312,"type":"quantitative","scale":{"domain":[1.16009,1.19352],"nice":false,"zero":false},"axis":null},"text":{"field":"t"}}},
{"data":{"values":[{"i":-0.25,"p":1.17901}]},
"mark":{"type":"point","shape":"square","filled":false,"size":10,"opacity":1,"color":"#8cc63f","strokeWidth":1},
"encoding":{"x":{"field":"i","type":"quantitative","scale":{"domain":[-0.625,205.83],"nice":false,"zero":false},"axis":null},"y":{"field":"p","type":"quantitative","scale":{"domain":[1.16009,1.19352],"nice":false,"zero":false},"axis":null}}}
]},
{"width":991,"height":49,
"resolve":{"axis":{"x":"independent","y":"independent"}},
"layer":[
{"data":{"name":"bars"},
"mark":{"type":"bar","size":3,"color":"#c6c6c6"},
"encoding":{"x":{"field":"i","type":"quantitative","scale":{"domain":[-0.625,205.83],"nice":false,"zero":false},"axis":{"values":[4.58,16.56,28.54,40.52,52.5,64.48,76.46,88.44,100.42,112.4,124.38,136.36,148.34,160.32],"grid":true,"gridDash":[3,3],"gridColor":"#d6d6d6","labels":false,"ticks":false,"domain":false,"title":null}},
"y":{"field":"m","type":"quantitative","scale":{"domain":[-0.002093,0.00298],"nice":false,"zero":false},"axis":{"orient":"right","values":[0.00267,0,-0.00168],"labelExpr":"datum.value > 0.001 ? '0.00298' : (datum.value < -0.001 ? '-0.002093' : '0.00')","domain":false,"grid":false,"labelOverlap":false,"labelFontSize":5.8,"labelPadding":1,"title":null}},"y2":{"datum":0}}},
{"data":{"values":[{"i":-0.4,"s":-0.00072},{"i":3.1,"s":-0.00176},{"i":7.3,"s":-0.00155},{"i":9.4,"s":-0.0015},{"i":11.5,"s":-0.00104},{"i":13.5,"s":-0.00031},{"i":16.7,"s":0.00021},{"i":19.8,"s":0.00021},{"i":24,"s":0},{"i":28.1,"s":-0.00031},{"i":31.3,"s":-0.0001},{"i":34.4,"s":0.00031},{"i":37.5,"s":0.00124},{"i":40.2,"s":0.00197},{"i":42.7,"s":0.00176},{"i":45.8,"s":0.00104},{"i":49,"s":0.00093},{"i":53.1,"s":0.00124},{"i":56.3,"s":0.00135},{"i":59.4,"s":0.00104},{"i":61.5,"s":0.00021},{"i":63.5,"s":-0.00072},{"i":67.7,"s":-0.00124},{"i":70.8,"s":-0.00104},{"i":75.4,"s":-0.00052},{"i":80.2,"s":-0.00062},{"i":82.3,"s":-0.00062},{"i":84.4,"s":-0.00031},{"i":86.5,"s":0.00031},{"i":89.6,"s":0.00083},{"i":92.7,"s":0.00072},{"i":95.8,"s":0.00041},{"i":99,"s":0.00021},{"i":103.1,"s":0.00021},{"i":106.3,"s":0.00021},{"i":108.3,"s":0.00052},{"i":111.5,"s":0.00093},{"i":115.6,"s":0.00114},{"i":119.8,"s":0.00176},{"i":122.9,"s":0.00228},{"i":125.6,"s":0.00269},{"i":128.1,"s":0.00238},{"i":132.3,"s":0.00135},{"i":136.5,"s":0.00021},{"i":140.6,"s":-0.00072},{"i":143.8,"s":-0.00052},{"i":146.9,"s":-0.00083},{"i":149,"s":-0.00124},{"i":153.1,"s":-0.00114},{"i":157.3,"s":-0.00135},{"i":161.5,"s":-0.00135},{"i":164.6,"s":-0.00124}]},
"mark":{"type":"line","color":"#f0392f","strokeWidth":1,"interpolate":"monotone"},
"encoding":{"x":{"field":"i","type":"quantitative","scale":{"domain":[-0.625,205.83],"nice":false,"zero":false},"axis":null},"y":{"field":"s","type":"quantitative","scale":{"domain":[-0.002093,0.00298],"nice":false,"zero":false},"axis":null}}},
{"data":{"values":[{"t":"MACD(12,26,9) -0.001171 -0.001200"}]},
"mark":{"type":"text","font":"Liberation Sans","fontSize":6.5,"color":"#6e6e6e","align":"left","baseline":"middle"},
"encoding":{"x":{"datum":0.4,"type":"quantitative","scale":{"domain":[-0.625,205.83],"nice":false,"zero":false},"axis":null},"y":{"datum":0.00246,"type":"quantitative","scale":{"domain":[-0.002093,0.00298],"nice":false,"zero":false},"axis":null},"text":{"field":"t"}}}
]},
{"width":991,"height":45,
"resolve":{"axis":{"x":"independent","y":"independent"}},
"layer":[
{"data":{"name":"bars"},
"mark":{"type":"bar","size":3,"color":"#4682b4"},
"encoding":{"x":{"field":"i","type":"quantitative","scale":{"domain":[-0.625,205.83],"nice":false,"zero":false},"axis":{"values":[4.58,16.56,28.54,40.52,52.5,64.48,76.46,88.44,100.42,112.4,124.38,136.36,148.34,160.32],"grid":true,"gridDash":[3,3],"gridColor":"#d6d6d6","labels":false,"ticks":false,"domain":false,"title":null}},
"y":{"field":"v","type":"quantitative","scale":{"domain":[0,30500],"nice":false,"zero":false},"axis":{"orient":"right","values":[28477,2700],"labelExpr":"datum.value > 10000 ? '28477' : '0'","domain":false,"grid":false,"labelOverlap":false,"title":null}},"y2":{"datum":0}}},
{"data":{"values":[{"t":"Volumes 545"}]},
"mark":{"type":"text","font":"Liberation Sans","fontSize":6.5,"color":"#6e6e6e","align":"left","baseline":"middle"},
"encoding":{"x":{"datum":0.4,"type":"quantitative","scale":{"domain":[-0.625,205.83],"nice":false,"zero":false},"axis":null},"y":{"datum":27100,"type":"quantitative","scale":{"domain":[0,30500],"nice":false,"zero":false},"axis":null},"text":{"field":"t"}}},
{"data":{"name":"days"},
"mark":{"type":"tick","orient":"horizontal","size":48,"thickness":8,"color":"#e2e2e2","opacity":1},
"encoding":{"x":{"field":"i","type":"quantitative","scale":{"domain":[-0.625,205.83],"nice":false,"zero":false},"axis":null},"y":{"datum":-4400,"type":"quantitative","scale":{"domain":[0,30500],"nice":false,"zero":false},"axis":null}}},
{"data":{"name":"days"},
"mark":{"type":"text","font":"Liberation Sans","fontSize":6,"color":"#b4b4b4","align":"center","baseline":"middle"},
"encoding":{"x":{"field":"i","type":"quantitative","scale":{"domain":[-0.625,205.83],"nice":false,"zero":false},"axis":null},"y":{"datum":-4400,"type":"quantitative","scale":{"domain":[0,30500],"nice":false,"zero":false},"axis":null},"text":{"field":"t"}}}
]}
]
}
